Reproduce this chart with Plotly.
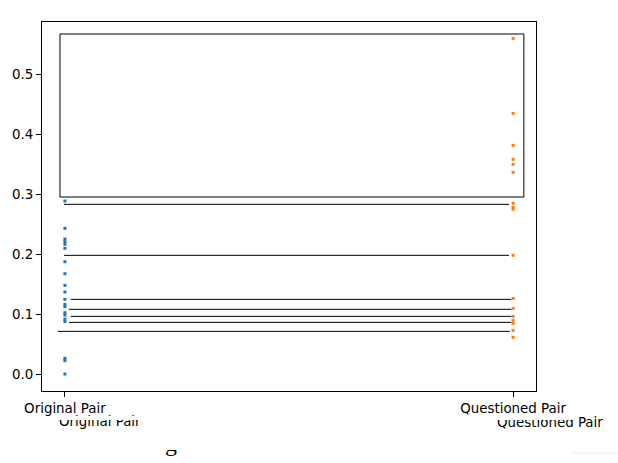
import plotly.graph_objects as go

# ---- data ----
categories = ["Original Pair", "Questioned Pair"]
original_vals = [0.2883, 0.2428, 0.2250, 0.2205, 0.2162, 0.2095, 0.1872, 0.1672,
                 0.1478, 0.1367, 0.1245, 0.1161, 0.1122, 0.1022, 0.0983, 0.0915,
                 0.0875, 0.0261, 0.0222, 0.0]
questioned_vals = [0.5594, 0.4344, 0.3810, 0.3578, 0.3494, 0.3360, 0.2844, 0.2778,
                   0.2745, 0.1978, 0.1260, 0.1094, 0.0961, 0.0894, 0.0844, 0.0728,
                   0.0611]
line_levels = [0.2828, 0.1978, 0.1244, 0.1078, 0.0961, 0.0861, 0.0711]
line_starts = [-0.002, -0.002, 0.013, 0.009, 0.013, 0.009, -0.016]
line_ends = [0.991, 0.991, 0.996, 0.996, 0.996, 0.996, 0.993]
box_x = [-0.011, 1.024]
box_y = [0.295, 0.5667]
y_ticks = [0.0, 0.1, 0.2, 0.3, 0.4, 0.5]

W, H = 618, 463
L, R, T, B = 40, 536, 22, 391


def px_x(px):
    return (px - L) / (R - L)


def px_y(py):
    return (B - py) / (B - T)


fig = go.Figure()
fig.add_trace(go.Scatter(x=[0] * len(original_vals), y=original_vals, mode="markers",
                         marker=dict(color="#1f77b4", size=3, symbol="square",
                                     line=dict(width=0)),
                         showlegend=False, cliponaxis=False))
fig.add_trace(go.Scatter(x=[1] * len(questioned_vals), y=questioned_vals, mode="markers",
                         marker=dict(color="#ff7f0e", size=3, symbol="square",
                                     line=dict(width=0)),
                         showlegend=False, cliponaxis=False))

shapes = []
for yv, x0, x1 in zip(line_levels, line_starts, line_ends):
    shapes.append(dict(type="line", xref="x", yref="y", x0=x0, x1=x1, y0=yv, y1=yv,
                       line=dict(color="black", width=1)))
shapes.append(dict(type="rect", xref="x", yref="y", x0=box_x[0], x1=box_x[1],
                   y0=box_y[0], y1=box_y[1], line=dict(color="black", width=1)))
shapes.append(dict(type="line", xref="paper", yref="paper", x0=px_x(572), x1=px_x(618),
                   y0=px_y(453), y1=px_y(453), line=dict(color="#ececec", width=1)))

font = dict(family="DejaVu Sans", size=13.4, color="black")
annotations = []
# duplicated, partially hidden tick labels
annotations.append(dict(text=categories[0], xref="paper", yref="paper", x=px_x(98),
                        y=px_y(412), xanchor="center", yanchor="top", showarrow=False,
                        font=font))
annotations.append(dict(text=categories[1], xref="paper", yref="paper", x=px_x(550),
                        y=px_y(413), xanchor="center", yanchor="top", showarrow=False,
                        font=font))
# glyph fragment
annotations.append(dict(text="g", xref="paper", yref="paper", x=px_x(170),
                        y=px_y(458), xanchor="center", yanchor="bottom", showarrow=False,
                        font=dict(family="Liberation Serif", size=24, color="black")))
# white covers
annotations.append(dict(text=" ", xref="paper", yref="paper", x=px_x(0), y=px_y(416),
                        xanchor="left", yanchor="top", showarrow=False, width=573,
                        height=4, bgcolor="white", borderpad=0, borderwidth=0,
                        font=dict(size=1)))
annotations.append(dict(text=" ", xref="paper", yref="paper", x=px_x(150), y=px_y(426),
                        xanchor="left", yanchor="top", showarrow=False, width=40,
                        height=24, bgcolor="white", borderpad=0, borderwidth=0,
                        font=dict(size=1)))

fig.update_layout(
    width=W, height=H,
    margin=dict(l=L, r=W - R, t=T, b=H - B),
    paper_bgcolor="white", plot_bgcolor="white",
    font=font,
    shapes=shapes,
    annotations=annotations,
    xaxis=dict(range=[-0.0511, 1.0511], tickvals=[0, 1], ticktext=categories,
               showgrid=False, zeroline=False, showline=True, mirror=True,
               linecolor="black", linewidth=1, ticks="outside", ticklen=5,
               tickcolor="black", tickfont=font),
    yaxis=dict(range=[-0.0283, 0.5867], tickvals=y_ticks,
               ticktext=[f"{v:.1f}" for v in y_ticks],
               showgrid=False, zeroline=False, showline=True, mirror=True,
               linecolor="black", linewidth=1, ticks="outside", ticklen=5,
               tickcolor="black", tickfont=font),
)

fig.write_html("out.html")
